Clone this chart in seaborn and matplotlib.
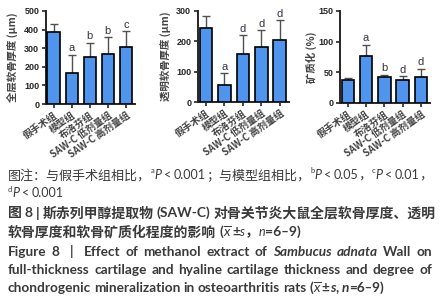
import numpy as np
import pandas as pd
import matplotlib
matplotlib.use("Agg")
import matplotlib.pyplot as plt
import seaborn as sns

# group names (x axis)
groups = ["假手术组", "模型组", "布洛芬组", "SAW-C 低剂量组", "SAW-C 高剂量组"]

# panel 1: full-thickness cartilage (um)
full_mean = [385, 165, 255, 268, 305]
full_sd = [45, 100, 75, 90, 85]
full_sig = ["", "a", "b", "b", "c"]

# panel 2: hyaline cartilage (um)
hyal_mean = [245, 55, 158, 182, 205]
hyal_sd = [40, 40, 62, 55, 65]
hyal_sig = ["", "a", "d", "d", "d"]

# panel 3: mineralization (%)
mine_mean = [37, 77, 42, 38, 42]
mine_sd = [4, 18, 4, 6, 14]
mine_sig = ["", "a", "b", "d", "d"]

sns.set_style("ticks")
plt.rcParams['font.family'] = ['Liberation Sans', 'Noto Sans CJK SC', 'DejaVu Sans']
plt.rcParams['mathtext.fontset'] = 'custom'
plt.rcParams['mathtext.it'] = 'Lato:italic'
plt.rcParams['mathtext.rm'] = 'Lato'

W, H = 440, 300
fig = plt.figure(figsize=(W / 100, H / 100), dpi=100)

bar_color = "#4f95ee"
cjk = ['Noto Sans CJK SC', 'DejaVu Sans']

panels = [
    (full_mean, full_sd, full_sig, "全层软骨厚度 (μm)", 500, [0, 100, 200, 300, 400, 500], (45.5, 135, 11, 104), 12),
    (hyal_mean, hyal_sd, hyal_sig, "透明软骨厚度 (μm)", 300, [0, 100, 200, 300], (197.5, 289, 11, 102), 166),
    (mine_mean, mine_sd, mine_sig, "矿质化 (%)", 150, [0, 50, 100, 150], (339.5, 430, 11, 103), 311),
]

for mean, sd, sig, ylab, ymax, yticks, (l, r, t, b), ylab_x in panels:
    ax = fig.add_axes([l / W, 1 - b / H, (r - l) / W, (b - t) / H])
    df = pd.DataFrame({"group": groups, "value": mean})
    sns.barplot(data=df, x="group", y="value", ax=ax, color=bar_color,
                saturation=1, width=0.68, edgecolor="black", linewidth=1.2,
                errorbar=None, zorder=3)
    x = np.arange(len(groups))
    ax.errorbar(x, mean, yerr=[np.zeros(len(sd)), sd], fmt="none",
                ecolor="#505050", elinewidth=1, capsize=3, capthick=1, zorder=2)
    for xi, m, s, lab in zip(x, mean, sd, sig):
        if lab:
            ax.annotate(lab, (xi, m + s), xytext=(0, 1), textcoords="offset points",
                        ha="center", va="bottom", fontsize=8, color="#333344")
    ax.set_xlim(-0.45, 4.5)
    ax.set_ylim(0, ymax)
    ax.set_yticks(yticks)
    ax.set_xlabel("")
    ax.set_ylabel("")
    ax.set_xticks(x)
    ax.set_xticklabels(groups, rotation=35, ha="right", rotation_mode="anchor",
                       fontsize=7, family=cjk, fontweight="bold", color="#444444")
    for lbl in ax.get_yticklabels():
        lbl.set_fontsize(6.5)
        lbl.set_fontweight("bold")
    ax.tick_params(axis="both", length=3, width=1.2, pad=1.5)
    for side in ["top", "right"]:
        ax.spines[side].set_visible(False)
    for side in ["left", "bottom"]:
        ax.spines[side].set_linewidth(1.4)
    fig.text(ylab_x / W, 1 - (t + b) / 2 / H, ylab, rotation=90, ha="center", va="center",
             fontsize=7.5, family=cjk, fontweight="bold", color="#444444")

# caption
renderer = fig.canvas.get_renderer()
txt_color = "#3a3a3a"
mix = ['Lato', 'Noto Sans CJK SC', 'DejaVu Sans']


def draw_line(y, runs, width=None, x0=8, space=3.0):
    items = []
    for text, st in runs:
        parts = text.split(" ")
        for i, p in enumerate(parts):
            if i > 0:
                items.append(None)
            if p:
                items.append((p, st))
    arts = []
    for it in items:
        if it is None:
            arts.append(None)
            continue
        word, st = it
        st = dict(st)
        dy = st.pop("dy", 0)
        t = fig.text(0, 1 - (y - dy) / H, word, va="center", ha="left",
                     color=txt_color, **st)
        arts.append((t, t.get_window_extent(renderer).width))
    ngaps = sum(1 for a in arts if a is None)
    used = sum(a[1] for a in arts if a is not None)
    gap = (width - used) / ngaps if (width and ngaps) else space
    gap = max(gap, 1.2)
    x = x0
    for a in arts:
        if a is None:
            x += gap
        else:
            a[0].set_x(x / W)
            x += a[1]


cn = dict(family=mix, fontsize=10)
cn1 = dict(family=mix, fontsize=9.4)
lat = dict(family=['Lato', 'DejaVu Sans'], fontsize=9)
cnb = dict(family=mix, fontsize=10, fontweight="bold")
it = dict(family=['Lato', 'DejaVu Sans'], fontsize=9, style="italic")
sup = dict(family=['Lato', 'DejaVu Sans'], fontsize=5.5, dy=4)
en = dict(family=['Lato', 'DejaVu Sans'], fontsize=9.8, fontweight="bold")
eni = dict(family=['Lato', 'DejaVu Sans'], fontsize=9.8, fontweight="bold", style="italic")

draw_line(175, [("图注：与假手术组相比，", cn1), ("a", sup), ("P", it), (" < 0.001", lat), ("；与模型组相比，", cn1),
                ("b", sup), ("P", it), (" < 0.05", lat), ("，", cn1), ("c", sup), ("P", it), (" < 0.01", lat),
                ("，", cn1)], width=424)
draw_line(193, [("d", sup), ("P", it), (" < 0.001", lat)], space=2.4)
draw_line(213, [("图 8 | 斯赤列甲醇提取物 (SAW-C) 对骨关节炎大鼠全层软骨厚度、透明", cnb)])
draw_line(232, [("软骨厚度和软骨矿质化程度的影响 (", cnb), (r"$\overline{x}$", dict(family=mix, fontsize=10)),
                ("±", cnb), ("s", it), ("，", cnb), ("n", it), ("=6‒9)", cnb)])
draw_line(252, [("Figure 8  |  Effect of methanol extract of", en), (" Sambucus adnata ", eni), ("Wall on", en)], width=424)
draw_line(270, [("full-thickness cartilage and hyaline cartilage thickness and degree of", en)], width=424)
draw_line(288, [("chondrogenic mineralization in osteoarthritis rats (", en), (r"$\overline{x}$", dict(family=mix, fontsize=10)),
                ("±", en), ("s", eni), (", ", en), ("n", eni), ("=6‒9)", en)])

fig.savefig("out.png", dpi=100)
